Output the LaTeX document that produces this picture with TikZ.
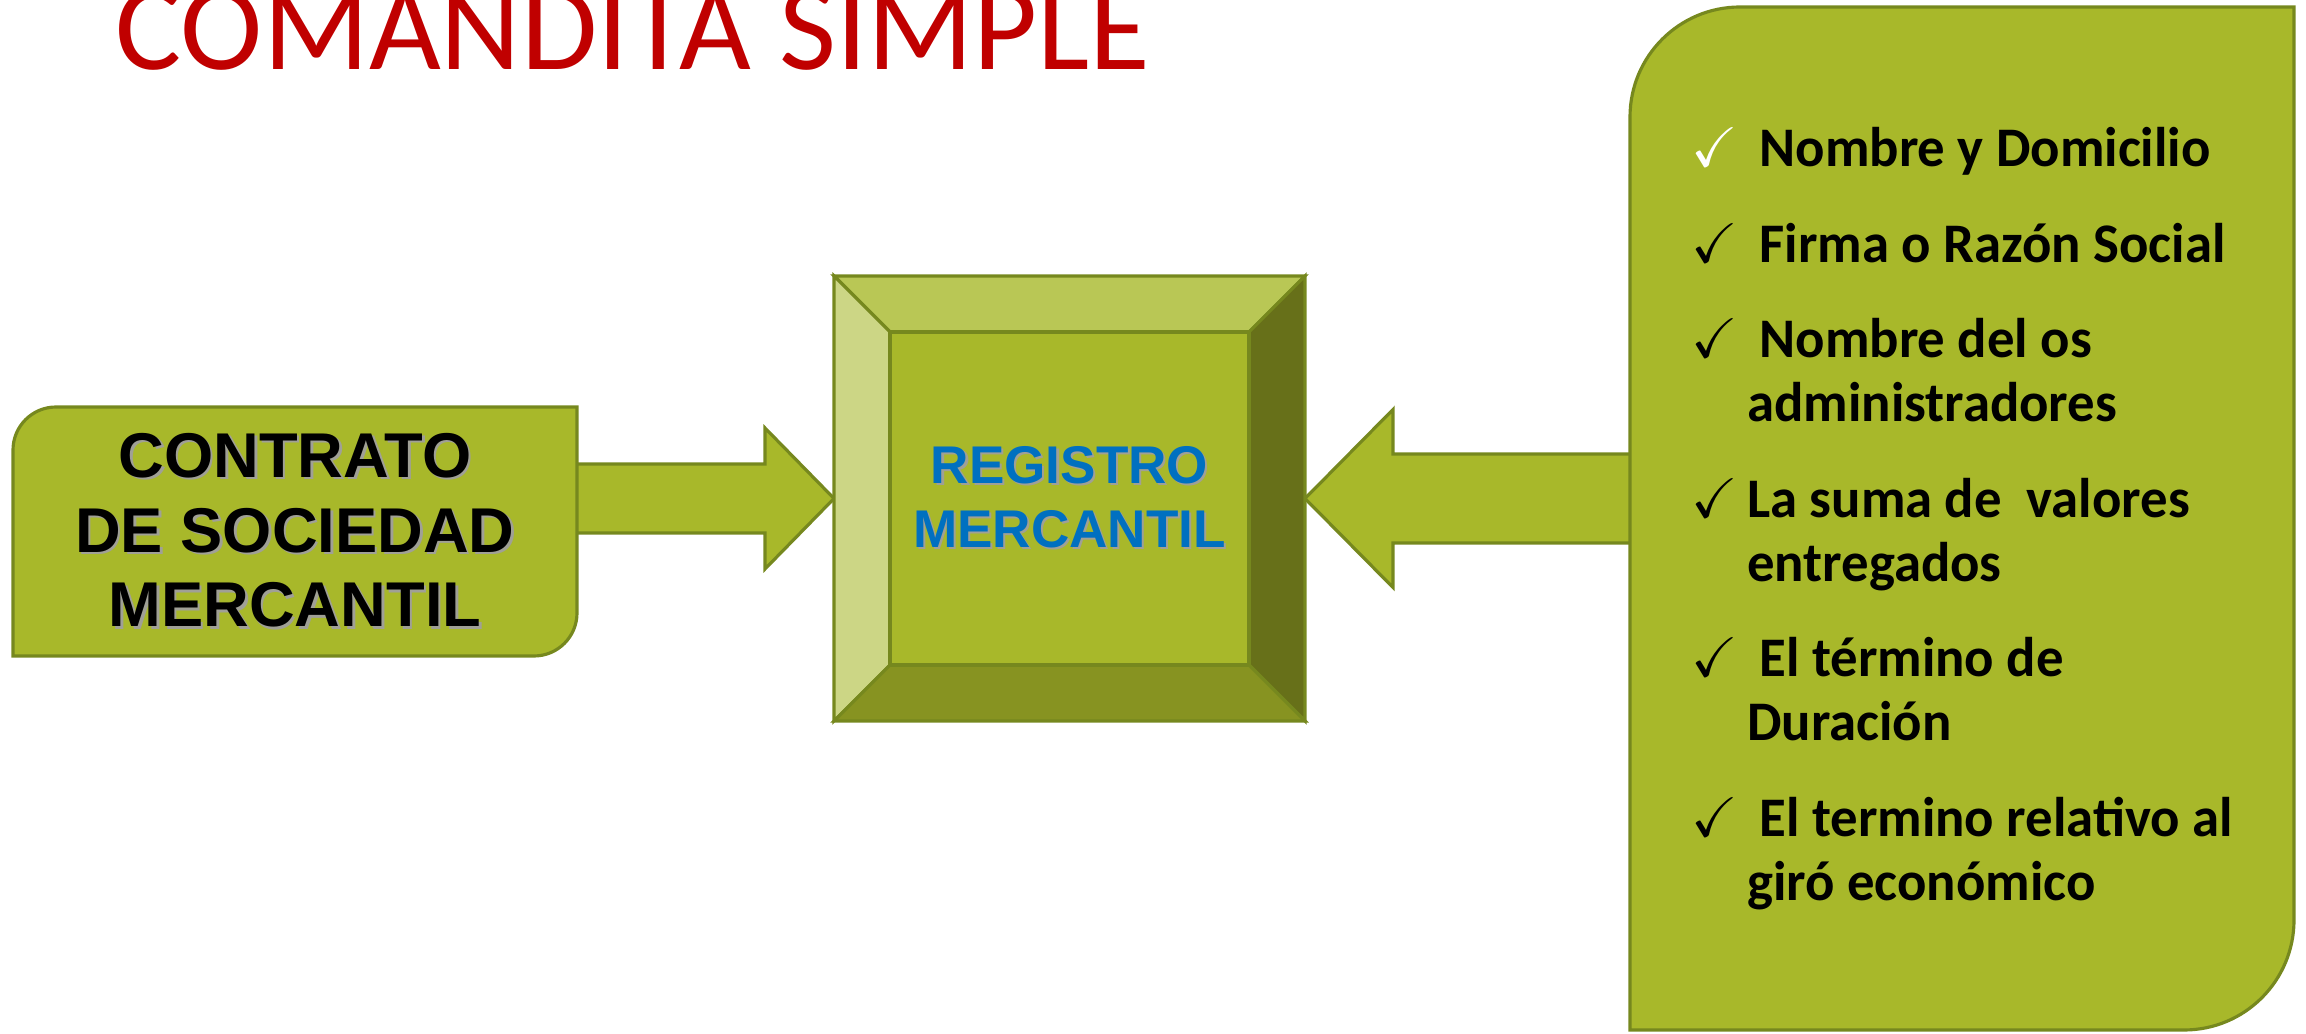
\documentclass[tikz,border=0pt]{standalone}
\usepackage{amssymb}
\usepackage{fontspec}
\setmainfont{Carlito}
\newfontfamily\arialfont{Liberation Sans}
\newfontfamily\listafont[FakeStretch=0.98]{Carlito}
\usetikzlibrary{calc,%
                backgrounds}

\definecolor{verde}{RGB}{168,184,42}
\definecolor{borde}{RGB}{118,136,30}
\definecolor{bisup}{RGB}{185,199,85}
\definecolor{biizq}{RGB}{204,214,133}
\definecolor{bider}{RGB}{103,112,25}
\definecolor{biinf}{RGB}{135,147,33}
\definecolor{rojo}{RGB}{192,0,0}
\definecolor{azul}{RGB}{0,112,192}
\definecolor{sombragris}{RGB}{160,160,150}

\newcommand{\sombra}[2]{\leavevmode\rlap{\hspace{0.04em}\raisebox{-0.04em}{\color{sombragris}#2}}{\color{#1}#2}}
\newcommand{\chk}[1]{\makebox[0.56cm][l]{\color{#1}$\checkmark$}}

\begin{document}
\begin{tikzpicture}
  \tikzstyle{caja}=[draw=borde,line width=0.9pt,fill=verde]
  \tikzstyle{bloque}=[inner sep=0pt,outer sep=0pt,align=center]
  \useasboundingbox (0,0) rectangle (23.06,10.33);
  \node[anchor=base,text=rojo,font=\fontsize{35.3}{40}\selectfont] (titulo) at (6.33,9.63) {COMANDITA SIMPLE};
  \node[bloque,minimum width=5.64cm,minimum height=2.49cm,font=\arialfont\bfseries\fontsize{18}{21.3}\selectfont] (contrato) at (2.95,5.015)
    {\sombra{black}{CONTRATO}\\ \sombra{black}{DE SOCIEDAD}\\ \sombra{black}{MERCANTIL}};
  \node[bloque,minimum width=4.71cm,minimum height=4.45cm,font=\arialfont\bfseries\fontsize{15.1}{18.2}\selectfont] (registro) at (10.695,5.345)
    {\sombra{azul}{REGISTRO}\\ \sombra{azul}{MERCANTIL}};
  \node[bloque,align=left,minimum width=6.64cm,minimum height=10.23cm,font=\listafont\bfseries\fontsize{15.9}{18.2}\selectfont] (requisitos) at (19.62,5.145)
    {\chk{white}\ Nombre y Domicilio\\[9pt]
     \chk{black}\ Firma o Razón Social\\[9pt]
     \chk{black}\ Nombre del os\\
     \hspace*{0.56cm}administradores\\[9pt]
     \chk{black}La suma de\ \ valores\\
     \hspace*{0.56cm}entregados\\[9pt]
     \chk{black}\ El término de\\
     \hspace*{0.56cm}Duración\\[9pt]
     \chk{black}\ El termino relativo al\hspace*{0.18cm}\\
     \hspace*{0.56cm}giró económico};
  \begin{pgfonlayer}{background}
    % flechas
    \draw[caja] ($(contrato.east |- registro.west)+(0,0.345)$) -- ($(registro.west)+(-0.69,0.345)$)
      -- ($(registro.west)+(-0.69,0.705)$) -- (registro.west) -- ($(registro.west)+(-0.69,-0.705)$)
      -- ($(registro.west)+(-0.69,-0.345)$) -- ($(contrato.east |- registro.west)+(0,-0.345)$);
    \draw[caja] ($(requisitos.west |- registro.east)+(0,0.445)$) -- ($(registro.east)+(0.88,0.445)$)
      -- ($(registro.east)+(0.88,0.89)$) -- (registro.east) -- ($(registro.east)+(0.88,-0.89)$)
      -- ($(registro.east)+(0.88,-0.445)$) -- ($(requisitos.west |- registro.east)+(0,-0.445)$);
    % cajas
    \draw[caja] (contrato.south west) -- ([yshift=-0.43cm]contrato.north west)
      arc[start angle=180,end angle=90,radius=0.43cm] -- (contrato.north east)
      -- ([yshift=0.43cm]contrato.south east) arc[start angle=0,end angle=-90,radius=0.43cm] -- cycle;
    \draw[caja] (requisitos.south west) -- ([yshift=-1.1cm]requisitos.north west)
      arc[start angle=180,end angle=90,radius=1.1cm] -- (requisitos.north east)
      -- ([yshift=1.1cm]requisitos.south east) arc[start angle=0,end angle=-90,radius=1.1cm] -- cycle;
    % bisel
    \coordinate (inw) at ($(registro.north west)+(0.56,-0.56)$);
    \coordinate (ine) at ($(registro.north east)+(-0.56,-0.56)$);
    \coordinate (ise) at ($(registro.south east)+(-0.56,0.56)$);
    \coordinate (isw) at ($(registro.south west)+(0.56,0.56)$);
    \draw[caja,fill=bisup] (registro.north west) -- (registro.north east) -- (ine) -- (inw) -- cycle;
    \draw[caja,fill=biizq] (registro.north west) -- (inw) -- (isw) -- (registro.south west) -- cycle;
    \draw[caja,fill=bider] (registro.north east) -- (registro.south east) -- (ise) -- (ine) -- cycle;
    \draw[caja,fill=biinf] (registro.south west) -- (isw) -- (ise) -- (registro.south east) -- cycle;
    \draw[caja] (inw) rectangle (ise);
  \end{pgfonlayer}
\end{tikzpicture}
\end{document}
